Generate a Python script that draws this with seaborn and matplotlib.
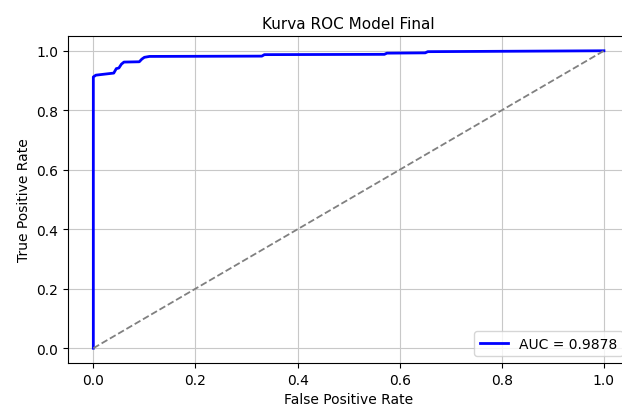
import matplotlib
matplotlib.use('Agg')
import matplotlib.pyplot as plt
import seaborn as sns
import pandas as pd

# ROC points (stair steps)
fpr = [0.0, 0.0, 0.005, 0.04, 0.045, 0.05, 0.055, 0.06, 0.09, 0.095, 0.10, 0.11,
       0.33, 0.335, 0.57, 0.575, 0.65, 0.655, 1.0]
tpr = [0.0, 0.912, 0.918, 0.925, 0.94, 0.942, 0.955, 0.962, 0.963, 0.972, 0.978, 0.981,
       0.982, 0.987, 0.988, 0.992, 0.993, 0.997, 1.0]
auc_score = 0.9878

diag = [0.0, 1.0]

df = pd.DataFrame({'fpr': fpr, 'tpr': tpr})

fig = plt.figure(figsize=(6.22, 4.10), dpi=100)
# axes run a little past the right edge, like the cropped reference
ax = fig.add_axes([0.109, 0.112, 0.903, 0.798])

sns.lineplot(data=df, x='fpr', y='tpr', estimator=None, sort=False,
             color='blue', linewidth=2, label=f'AUC = {auc_score:.4f}', ax=ax)
sns.lineplot(x=diag, y=diag, color='gray', linestyle='--', linewidth=1.3, ax=ax)

ax.set_xlim(-0.05, 1.05)
ax.set_ylim(-0.05, 1.05)
ax.set_title('Kurva ROC Model Final', fontsize=11)
ax.set_xlabel('False Positive Rate', fontsize=10)
ax.set_ylabel('True Positive Rate', fontsize=10)
ax.tick_params(labelsize=10)
ax.grid(True, color='#c8c8c8')
ax.legend(loc='lower right', fontsize=10)

fig.savefig('out.png', dpi=100)
